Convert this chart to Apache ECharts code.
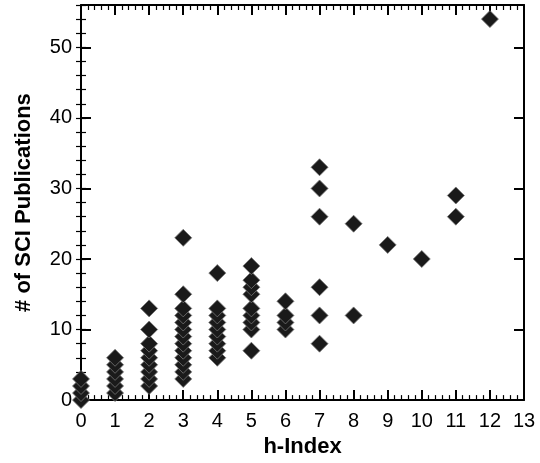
<!DOCTYPE html>
<html>
<head>
<meta charset="utf-8">
<script src="https://cdn.jsdelivr.net/npm/echarts@6/dist/echarts.min.js"></script>
<style>html,body{margin:0;padding:0;background:#fff}#c{width:540px;height:463px}</style>
</head>
<body>
<div id="c"></div>
<script>
// h-Index values and the publication counts observed at each
const hIndex = [0, 1, 2, 3, 4, 5, 6, 7, 8, 9, 10, 11, 12];
const pubs0 = [0, 1, 2, 3];
const pubs1 = [1, 2, 3, 4, 5, 6];
const pubs2 = [2, 3, 4, 5, 6, 7, 8, 10, 13];
const pubs3 = [3, 4, 5, 6, 7, 8, 9, 10, 11, 12, 13, 15, 23];
const pubs4 = [6, 7, 8, 9, 10, 11, 12, 13, 18];
const pubs5 = [7, 10, 11, 12, 13, 15, 16, 17, 19];
const pubs6 = [10, 11, 12, 14];
const pubs7 = [8, 12, 16, 26, 30, 33];
const pubs8 = [12, 25];
const pubs9 = [22];
const pubs10 = [20];
const pubs11 = [26, 29];
const pubs12 = [54];
const pubsByH = [pubs0, pubs1, pubs2, pubs3, pubs4, pubs5, pubs6, pubs7, pubs8, pubs9, pubs10, pubs11, pubs12];
const xTitle = 'h-Index';
const yTitle = '# of SCI Publications';

const points = [];
hIndex.forEach((h, i) => pubsByH[i].forEach(v => points.push([h, v])));

const font = 'Liberation Sans, Arial, Helvetica, sans-serif';
const lineStyle = { color: '#000', width: 2 };

const chart = echarts.init(document.getElementById('c'), null, { renderer: 'canvas' });
chart.setOption({
  animation: false,
  backgroundColor: '#fff',
  grid: { left: 81, right: 16, top: 5, bottom: 56, containLabel: false },
  xAxis: [
    {
      type: 'value', position: 'bottom', min: 0, max: 13, interval: 1,
      name: xTitle, nameLocation: 'middle', nameGap: 32,
      nameTextStyle: { fontFamily: font, fontSize: 22, fontWeight: 'bold', color: '#000' },
      axisLine: { show: true, onZero: false, lineStyle },
      axisTick: { show: true, inside: true, length: 10, lineStyle: { color: '#000', width: 2 } },
      minorTick: { show: true, splitNumber: 5, length: 5, lineStyle: { color: '#000', width: 1.2 } },
      axisLabel: { fontFamily: font, fontSize: 20, color: '#000', margin: 11 },
      splitLine: { show: false }
    },
    {
      type: 'value', position: 'top', min: 0, max: 13, interval: 1,
      axisLine: { show: true, onZero: false, lineStyle },
      axisTick: { show: true, inside: true, length: 10, lineStyle: { color: '#000', width: 2 } },
      minorTick: { show: true, splitNumber: 5, length: 5, lineStyle: { color: '#000', width: 1.2 } },
      axisLabel: { show: false },
      splitLine: { show: false }
    }
  ],
  yAxis: [
    {
      type: 'value', position: 'left', min: 0, max: 56, interval: 10,
      name: yTitle, nameLocation: 'middle', nameGap: 46,
      nameTextStyle: { fontFamily: font, fontSize: 22, fontWeight: 'bold', color: '#000' },
      axisLine: { show: true, onZero: false, lineStyle },
      axisTick: { show: true, inside: true, length: 10, lineStyle: { color: '#000', width: 2 } },
      axisLabel: { fontFamily: font, fontSize: 20, color: '#000', margin: 9, showMaxLabel: false },
      splitLine: { show: false }
    },
    {
      type: 'value', position: 'left', min: 0, max: 56, interval: 2,
      axisLine: { show: false },
      axisTick: { show: true, inside: true, length: 5, lineStyle: { color: '#000', width: 1.2 } },
      axisLabel: { show: false },
      splitLine: { show: false }
    },
    {
      type: 'value', position: 'right', min: 0, max: 56, interval: 10,
      axisLine: { show: true, onZero: false, lineStyle },
      axisTick: { show: true, inside: true, length: 10, lineStyle: { color: '#000', width: 2 } },
      axisLabel: { show: false },
      splitLine: { show: false }
    },
    {
      type: 'value', position: 'right', min: 0, max: 56, interval: 2,
      axisLine: { show: false },
      axisTick: { show: true, inside: true, length: 5, lineStyle: { color: '#000', width: 1.2 } },
      axisLabel: { show: false },
      splitLine: { show: false }
    }
  ],
  series: [{
    type: 'scatter',
    xAxisIndex: 0,
    yAxisIndex: 0,
    data: points,
    symbol: 'diamond',
    symbolSize: 17,
    clip: false,
    itemStyle: { color: '#1a1a1a', borderColor: '#777', borderWidth: 0.8, opacity: 1 },
    z: 5
  }]
});
</script>
</body>
</html>
